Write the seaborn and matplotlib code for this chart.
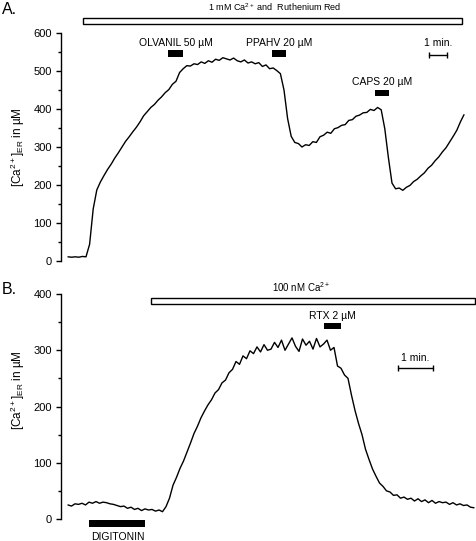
import numpy as np
import seaborn as sns
import matplotlib.pyplot as plt
from matplotlib.patches import Rectangle
from matplotlib.ticker import FixedLocator

# trace A: [Ca2+]ER in uM, one reading every 0.2 min
ca_a = [11, 10, 11, 10, 12, 11,
        44, 137, 187, 208, 225,
        241, 255, 271, 285, 300, 315, 327, 340, 352, 366,
        382, 393, 404, 412, 423, 432, 443, 451, 465, 473,
        496, 506, 514, 513, 519, 517, 524, 520, 527, 523,
        531, 528, 535, 532, 529, 534, 527, 524, 529, 521,
        524, 519, 522, 512, 516, 506, 508, 501, 493, 450,
        375, 328, 312, 309, 300, 306, 304, 314, 312, 327,
        331, 339, 336, 348, 351, 357, 359, 370, 372, 381,
        384, 390, 391, 399, 396, 404, 398, 348, 272, 205,
        190, 192, 186, 194, 199, 209, 215, 224, 232, 244,
        252, 264, 274, 287, 298, 313, 328, 344, 366, 385]
dt_a = 0.2

# trace B: one reading every 0.1 min
ca_b = [25, 23, 27, 26, 28, 25, 30, 28, 31, 28,
        30, 29, 27, 26, 24, 22, 23, 19, 21, 17,
        19, 15, 18, 16, 17, 14, 16, 13, 22, 37,
        60, 74, 90, 103, 119, 135, 152, 165, 180, 192,
        203, 212, 224, 230, 242, 247, 260, 266, 280, 275,
        290, 285, 299, 294, 306, 297, 310, 300, 302, 314,
        305, 318, 300, 311, 322, 307, 298, 320, 309, 316,
        302, 321, 306, 311, 318, 300, 305, 272, 268, 256,
        250, 220, 193, 170, 150, 124, 106, 89, 76, 64,
        58, 50, 48, 42, 43, 37, 39, 35, 37, 32,
        36, 31, 34, 29, 33, 28, 31, 29, 30, 26,
        29, 25, 27, 24, 25, 21, 20]
dt_b = 0.1

# drug applications (label, start min, end min)
drugs_a = [('OLVANIL 50 µM', 5.56, 6.39), ('PPAHV 20 µM', 11.33, 12.11), ('CAPS 20 µM', 17.07, 17.85)]
drugs_b = [('RTX 2 µM', 7.30, 7.79)]

t_a = np.arange(len(ca_a)) * dt_a
t_b = np.arange(len(ca_b)) * dt_b

sns.set_style('ticks', rc={'axes.edgecolor': 'black', 'text.color': 'black',
                           'xtick.color': 'black', 'ytick.color': 'black',
                           'axes.labelcolor': 'black'})
plt.rcParams['font.family'] = ['Liberation Sans', 'DejaVu Sans']
plt.rcParams['mathtext.default'] = 'regular'

fig = plt.figure(figsize=(4.76, 5.41), dpi=100)
ax_a = fig.add_axes([61 / 476, 1 - 261 / 541, 415 / 476, 258.4 / 541])
ax_b = fig.add_axes([61 / 476, 0, 415 / 476, 261 / 541])

sns.lineplot(x=t_a, y=ca_a, ax=ax_a, color='black', lw=1)
sns.lineplot(x=t_b, y=ca_b, ax=ax_b, color='black', lw=1)

ylab = '[Ca$^{2+}$]$_{ER}$ in µM'
for ax, top, lim, xlim, lab_y in [(ax_a, 600, (0, 680), (-0.389, 22.667), 0.441),
                                  (ax_b, 400, (-39.1, 424.9), (-0.2, 11.657), 0.5785)]:
    ax.set_xlim(xlim)
    ax.set_ylim(lim)
    for s in ['top', 'right', 'bottom']:
        ax.spines[s].set_visible(False)
    ax.spines['left'].set_bounds(0, top)
    ax.spines['left'].set_linewidth(1)
    ax.set_xticks([])
    ax.set_yticks(range(0, top + 1, 100))
    ax.yaxis.set_minor_locator(FixedLocator(list(range(50, top, 100))))
    ax.tick_params(axis='y', which='major', length=3.5, width=1, labelsize=8, pad=3)
    ax.tick_params(axis='y', which='minor', length=2.5, width=1)
    ax.set_ylabel(ylab, fontsize=8.5)
    ax.yaxis.set_label_coords(-0.082, lab_y)

# panel A annotations
ax_a.add_patch(Rectangle((0.833, 623.7), 21.06, 15.8, facecolor='white',
                         edgecolor='black', lw=1, clip_on=False))
ax_a.text(11.5, 668, '1 mM Ca$^{2+}$ and  Ruthenium Red', fontsize=6.5, ha='center', va='center')
for name, t0, t1 in drugs_a:
    ybar = 434 if name.startswith('CAPS') else 537
    ax_a.add_patch(Rectangle((t0, ybar), t1 - t0, 17, facecolor='black', edgecolor='none', clip_on=False))
    ax_a.text((t0 + t1) / 2, ybar + 36, name, fontsize=7.5, ha='center', va='center')
ax_a.plot([20.06, 21.06], [541, 541], color='black', lw=1, marker='|', ms=4, mew=1)
ax_a.text(20.58, 574, '1 min.', fontsize=7.5, ha='center', va='center')

# panel B annotations
ax_b.add_patch(Rectangle((2.371, 382.8), 9.26, 10.6, facecolor='white',
                         edgecolor='black', lw=1, clip_on=False))
ax_b.text(6.657, 412.4, '100 nM Ca$^{2+}$', fontsize=7, ha='center', va='center')
for name, t0, t1 in drugs_b:
    ax_b.add_patch(Rectangle((t0, 337), t1 - t0, 12, facecolor='black', edgecolor='none', clip_on=False))
    ax_b.text((t0 + t1) / 2, 361, name, fontsize=7.5, ha='center', va='center')
ax_b.add_patch(Rectangle((0.6, -13.7), 1.6, 11.9, facecolor='black', edgecolor='none', clip_on=False))
ax_b.text(1.437, -32.6, 'DIGITONIN', fontsize=7.5, ha='center', va='center')
ax_b.plot([9.43, 10.43], [268, 268], color='black', lw=1, marker='|', ms=4, mew=1)
ax_b.text(9.91, 286, '1 min.', fontsize=7.5, ha='center', va='center')

fig.text(0.004, 1 - 10 / 541, 'A.', fontsize=11.5, va='center')
fig.text(0.004, 1 - 290 / 541, 'B.', fontsize=11.5, va='center')

fig.savefig('out.png', dpi=100)
